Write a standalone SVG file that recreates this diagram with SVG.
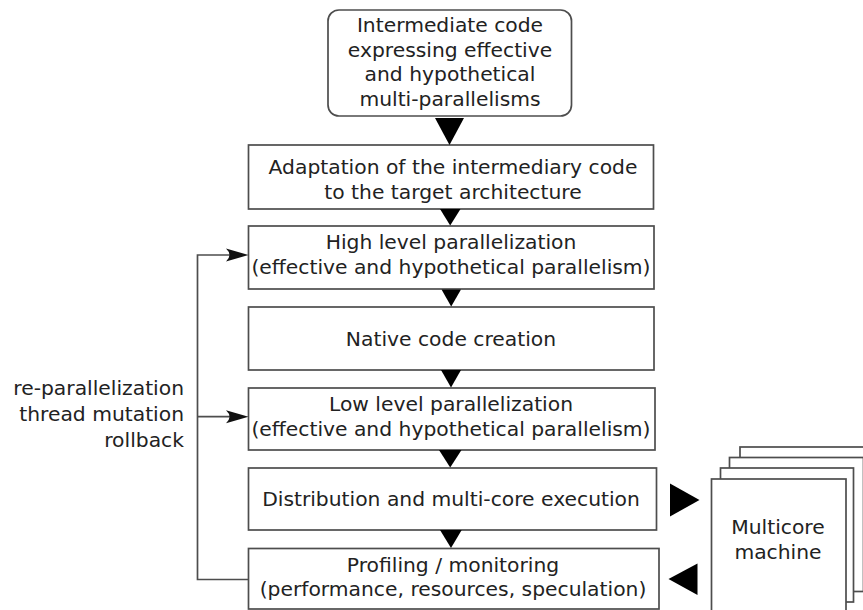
<svg xmlns="http://www.w3.org/2000/svg" width="863" height="610" viewBox="0 0 863 610">
<style>
.box{fill:#fff;stroke:#4d4d4d;stroke-width:1.7}
.t{font-family:"DejaVu Sans",Verdana,sans-serif;font-size:20.3px;fill:#222;text-anchor:middle}
.tr{font-family:"DejaVu Sans",Verdana,sans-serif;font-size:20.3px;fill:#222;text-anchor:end}
.tri{fill:#000}
.ln{fill:none;stroke:#4d4d4d;stroke-width:1.7}
.ah{fill:#111}
</style>
<rect width="863" height="610" fill="#fff"/>
<g id="n1">
<rect class="box" x="328" y="10" width="243.5" height="106" rx="11"/>
<text class="t" x="450" y="32">Intermediate code</text>
<text class="t" x="450" y="56.5">expressing effective</text>
<text class="t" x="450" y="81">and hypothetical</text>
<text class="t" x="450" y="105.5">multi-parallelisms</text>
</g>
<g id="n2">
<rect class="box" x="248.5" y="145" width="405" height="64"/>
<text class="t" x="453" y="173.5">Adaptation of the intermediary code</text>
<text class="t" x="453" y="198.5">to the target architecture</text>
</g>
<g id="n3">
<rect class="box" x="248.5" y="226" width="405.5" height="63"/>
<text class="t" x="451" y="249">High level parallelization</text>
<text class="t" x="451" y="274">(effective and hypothetical parallelism)</text>
</g>
<g id="n4">
<rect class="box" x="248.5" y="307" width="405.5" height="63"/>
<text class="t" x="451" y="345.5">Native code creation</text>
</g>
<g id="n5">
<rect class="box" x="248.5" y="388" width="406.5" height="62"/>
<text class="t" x="451" y="410.5">Low level parallelization</text>
<text class="t" x="451" y="435.5">(effective and hypothetical parallelism)</text>
</g>
<g id="n6">
<rect class="box" x="248.5" y="468" width="408" height="62"/>
<text class="t" x="451" y="506">Distribution and multi-core execution</text>
</g>
<g id="n7">
<rect class="box" x="248.5" y="548.5" width="410.5" height="60.5"/>
<text class="t" x="453" y="572">Profiling / monitoring</text>
<text class="t" x="453" y="596">(performance, resources, speculation)</text>
</g>
<g id="n8">
<rect class="box" x="740" y="447" width="134" height="134"/>
<rect class="box" x="729.5" y="457.5" width="134" height="134"/>
<rect class="box" x="720.5" y="468" width="133" height="134"/>
<rect class="box" x="711.5" y="479" width="134.5" height="140"/>
<text class="t" x="778" y="533.5">Multicore</text>
<text class="t" x="778" y="558.5">machine</text>
</g>
<g id="label">
<text class="tr" x="184" y="395">re-parallelization</text>
<text class="tr" x="184" y="421">thread mutation</text>
<text class="tr" x="184" y="446.5">rollback</text>
</g>
<g id="connectors">
<polygon class="tri" points="435,118 464,118 449.5,145"/>
<polygon class="tri" points="440,209 460.5,209 450.2,225.5"/>
<polygon class="tri" points="441.5,289.5 461,289.5 451.2,306.5"/>
<polygon class="tri" points="441,370 461,370 451,387.5"/>
<polygon class="tri" points="439,450 461.5,450 450.2,467.5"/>
<polygon class="tri" points="440,530 461.7,530 451,548"/>
<polygon class="tri" points="670,483.5 670,516.5 699.5,500"/>
<polygon class="tri" points="697.5,563.5 697.5,595 668.5,579"/>
<path class="ln" d="M248,579.5 H197.5 V255 H238"/>
<path class="ln" d="M197.5,416.7 H238"/>
<path class="ah" d="M248.5,255 L226,248.5 Q233,255 226,261.5 Z"/>
<path class="ah" d="M248.5,416.7 L226,410.2 Q233,416.7 226,423.2 Z"/>
</g>
</svg>
